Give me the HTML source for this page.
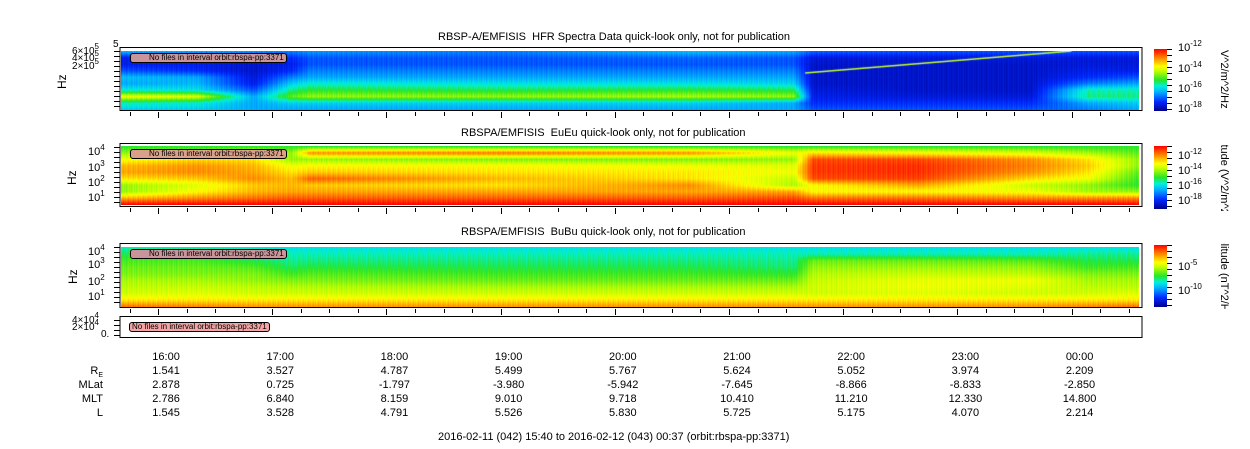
<!DOCTYPE html>
<html><head><meta charset="utf-8">
<style>
body{margin:0;width:1250px;height:449px;background:#fff;position:relative;overflow:hidden;font-family:"Liberation Sans",sans-serif;color:#000}
.t{position:absolute;font-size:11px;white-space:nowrap;line-height:12px}
canvas{position:absolute}
svg{position:absolute;left:0;top:0}
.box{position:absolute;border:1px solid #000;border-radius:3px;font-size:8px;line-height:8px;white-space:nowrap;padding:0 2px}
sup{font-size:8px;vertical-align:5px;line-height:0}
.clip{position:absolute;overflow:hidden}
.rot{position:absolute;transform:rotate(90deg);transform-origin:0 0;font-size:11px;white-space:nowrap}
.rotl{position:absolute;transform:rotate(-90deg);transform-origin:0 0;font-size:12px;white-space:nowrap}
</style></head><body>
<div class="t" style="left:438px;top:31px">RBSP-A/EMFISIS&nbsp; HFR Spectra Data quick-look only, not for publication</div>
<div class="t" style="left:461px;top:127px">RBSPA/EMFISIS&nbsp; EuEu quick-look only, not for publication</div>
<div class="t" style="left:461px;top:226px">RBSPA/EMFISIS&nbsp; BuBu quick-look only, not for publication</div>

<canvas id="c1" width="1018" height="59" style="left:121px;top:51px"></canvas>
<canvas id="c2" width="1018" height="59" style="left:121px;top:146px"></canvas>
<canvas id="c3" width="1018" height="60" style="left:121px;top:247px"></canvas>

<svg id="ax" width="1250" height="449">
<defs><linearGradient id="jet" x1="0" y1="1" x2="0" y2="0">
<stop offset="0" stop-color="#00008c"/><stop offset="0.15" stop-color="#0028ff"/><stop offset="0.3" stop-color="#00aaff"/><stop offset="0.4" stop-color="#00f0dc"/><stop offset="0.5" stop-color="#28e628"/><stop offset="0.65" stop-color="#c8ff00"/><stop offset="0.72" stop-color="#ffff00"/><stop offset="0.85" stop-color="#ff8c00"/><stop offset="1" stop-color="#ff0000"/></linearGradient></defs>
<rect x="120" y="47.5" width="1022" height="63" fill="none" stroke="#000"/>
<rect x="120" y="143.5" width="1022" height="63" fill="none" stroke="#000"/>
<rect x="120" y="243.5" width="1022" height="64" fill="none" stroke="#000"/>
<rect x="120" y="316.5" width="1022" height="21" fill="none" stroke="#000"/>
<rect x="1154" y="49" width="13" height="62" fill="url(#jet)"/>
<rect x="1154" y="146" width="13" height="63" fill="url(#jet)"/>
<rect x="1154" y="245" width="13" height="62" fill="url(#jet)"/>
<g id="ticks" stroke="#000" stroke-width="1"></g>
</svg>

<div class="box" style="left:130px;top:53px;background:#c9959a;padding-left:18px">No files in interval orbit:rbspa-pp:3371</div>
<div class="box" style="left:130px;top:149px;background:#d9a08a;padding-left:18px">No files in interval orbit:rbspa-pp:3371</div>
<div class="box" style="left:130px;top:249px;background:#c9959a;padding-left:18px">No files in interval orbit:rbspa-pp:3371</div>
<div class="box" style="left:129px;top:322px;background:#f4a4a4">No files in interval orbit:rbspa-pp:3371</div>

<div class="t" style="left:113px;top:39px;font-size:10px">5</div>
<div class="t" style="left:72px;top:46px;font-size:10px">6×10<sup>5</sup></div>
<div class="t" style="left:72px;top:53px;font-size:10px">4×10<sup>5</sup></div>
<div class="t" style="left:72px;top:61px;font-size:10px">2×10<sup>5</sup></div>
<div class="rotl" style="left:55px;top:89px">Hz</div>

<div class="t" style="left:88px;top:146px">10<sup>4</sup></div>
<div class="t" style="left:88px;top:162px">10<sup>3</sup></div>
<div class="t" style="left:88px;top:177px">10<sup>2</sup></div>
<div class="t" style="left:88px;top:192px">10<sup>1</sup></div>
<div class="rotl" style="left:65px;top:185px">Hz</div>

<div class="t" style="left:88px;top:246px">10<sup>4</sup></div>
<div class="t" style="left:88px;top:259px">10<sup>3</sup></div>
<div class="t" style="left:88px;top:276px">10<sup>2</sup></div>
<div class="t" style="left:88px;top:291px">10<sup>1</sup></div>
<div class="rotl" style="left:66px;top:284px">Hz</div>

<div class="t" style="left:72px;top:315px;font-size:10px">4×10<sup>4</sup></div>
<div class="t" style="left:72px;top:322px;font-size:10px">2×10<sup>4</sup></div>
<div class="t" style="left:101px;top:329px;font-size:10px">0.</div>

<div class="t" style="left:1178px;top:42px">10<sup>-12</sup></div>
<div class="t" style="left:1178px;top:63px">10<sup>-14</sup></div>
<div class="t" style="left:1178px;top:83px">10<sup>-16</sup></div>
<div class="t" style="left:1178px;top:103px">10<sup>-18</sup></div>
<div class="t" style="left:1178px;top:150px">10<sup>-12</sup></div>
<div class="t" style="left:1178px;top:165px">10<sup>-14</sup></div>
<div class="t" style="left:1178px;top:180px">10<sup>-16</sup></div>
<div class="t" style="left:1178px;top:195px">10<sup>-18</sup></div>
<div class="t" style="left:1178px;top:261px">10<sup>-5</sup></div>
<div class="t" style="left:1178px;top:285px">10<sup>-10</sup></div>

<div class="clip" style="left:1214px;top:47px;width:20px;height:66px"><div class="rot" style="left:16px;top:3px">V^2/m^2/Hz</div></div>
<div class="clip" style="left:1214px;top:145px;width:20px;height:66px"><div class="rot" style="left:16px;top:-28px">Amplitude (V^2/m^2/Hz)</div></div>
<div class="clip" style="left:1214px;top:243px;width:20px;height:66px"><div class="rot" style="left:16px;top:-22px">Amplitude (nT^2/Hz)</div></div>

<div id="table"></div>
<div class="t" style="left:438px;top:431px">2016-02-11 (042) 15:40 to 2016-02-12 (043) 00:37 (orbit:rbspa-pp:3371)</div>

<script>
// ---- data ----
const hourLabels=["16:00","17:00","18:00","19:00","20:00","21:00","22:00","23:00","00:00"];
const reVals=["1.541","3.527","4.787","5.499","5.767","5.624","5.052","3.974","2.209"];
const mlatVals=["2.878","0.725","-1.797","-3.980","-5.942","-7.645","-8.866","-8.833","-2.850"];
const mltVals=["2.786","6.840","8.159","9.010","9.718","10.410","11.210","12.330","14.800"];
const lVals=["1.545","3.528","4.791","5.526","5.830","5.725","5.175","4.070","2.214"];
// spectrogram node times (minutes since 15:40) and band levels (top->bottom, 0..1 colormap)
const nodeTimes=[0,40,70,90,100,200,300,355,365,420,480,510,537];
const hfrLevels=[
[0.32,0.12,0.12,0.2,0.33,0.3,0.4,0.7,0.42,0.35],
[0.3,0.12,0.12,0.15,0.3,0.32,0.38,0.68,0.4,0.35],
[0.28,0.1,0.08,0.08,0.1,0.12,0.2,0.3,0.3,0.3],
[0.25,0.15,0.12,0.15,0.25,0.35,0.45,0.55,0.35,0.3],
[0.28,0.2,0.2,0.25,0.3,0.4,0.5,0.6,0.35,0.3],
[0.25,0.2,0.2,0.25,0.3,0.38,0.48,0.6,0.35,0.3],
[0.33,0.22,0.2,0.25,0.3,0.38,0.5,0.62,0.35,0.3],
[0.3,0.2,0.2,0.25,0.3,0.36,0.48,0.6,0.3,0.3],
[0.22,0.1,0.08,0.08,0.08,0.08,0.1,0.12,0.15,0.2],
[0.2,0.1,0.08,0.08,0.08,0.08,0.08,0.1,0.15,0.2],
[0.2,0.1,0.08,0.08,0.08,0.08,0.08,0.1,0.15,0.2],
[0.2,0.1,0.1,0.12,0.15,0.25,0.42,0.45,0.3,0.25],
[0.2,0.1,0.1,0.12,0.2,0.3,0.42,0.45,0.35,0.3]];
const eueuLevels=[
[0.5,0.6,0.7,0.8,0.82,0.75,0.6,0.6,0.8,1.0],
[0.5,0.62,0.76,0.84,0.85,0.78,0.68,0.72,0.85,1.0],
[0.5,0.7,0.75,0.8,0.82,0.85,0.78,0.8,0.88,1.0],
[0.5,0.6,0.6,0.7,0.75,0.8,0.8,0.82,0.9,1.0],
[0.5,0.85,0.6,0.72,0.78,0.9,0.78,0.82,0.9,1.0],
[0.5,0.88,0.58,0.72,0.75,0.8,0.75,0.82,0.9,1.0],
[0.5,0.85,0.58,0.7,0.74,0.75,0.85,0.82,0.9,1.0],
[0.5,0.7,0.6,0.68,0.7,0.65,0.62,0.82,0.92,1.0],
[0.5,0.75,0.92,0.94,0.94,0.92,0.72,0.72,0.88,1.0],
[0.5,0.72,0.92,0.95,0.95,0.93,0.82,0.72,0.88,1.0],
[0.5,0.68,0.84,0.86,0.84,0.76,0.65,0.7,0.85,1.0],
[0.5,0.62,0.75,0.78,0.75,0.7,0.6,0.62,0.85,1.0],
[0.5,0.55,0.6,0.6,0.55,0.52,0.5,0.6,0.85,1.0]];
const bubuLevels=[
[0.42,0.48,0.53,0.56,0.58,0.62,0.64,0.66,0.74,0.88],
[0.42,0.48,0.53,0.56,0.58,0.62,0.65,0.68,0.74,0.86],
[0.4,0.45,0.48,0.54,0.58,0.6,0.64,0.66,0.74,0.84],
[0.38,0.42,0.44,0.47,0.52,0.58,0.63,0.66,0.74,0.84],
[0.38,0.42,0.45,0.49,0.54,0.58,0.63,0.66,0.74,0.84],
[0.38,0.42,0.45,0.48,0.52,0.56,0.62,0.66,0.74,0.84],
[0.38,0.42,0.45,0.48,0.52,0.56,0.62,0.66,0.74,0.84],
[0.38,0.42,0.44,0.46,0.5,0.56,0.62,0.66,0.74,0.84],
[0.38,0.42,0.56,0.6,0.63,0.65,0.66,0.66,0.74,0.84],
[0.38,0.42,0.56,0.61,0.65,0.69,0.7,0.68,0.74,0.84],
[0.38,0.42,0.54,0.6,0.64,0.7,0.68,0.66,0.74,0.84],
[0.38,0.44,0.48,0.52,0.58,0.62,0.64,0.66,0.74,0.86],
[0.38,0.44,0.48,0.53,0.58,0.62,0.64,0.68,0.74,0.88]];
const totalMinutes=537;

// ---- axes ----
const X0=120,X1=1142;
function xOf(t){return X0+t*(X1-X0)/totalMinutes;}
const stops=[[0,[0,0,140]],[0.15,[0,40,255]],[0.3,[0,170,255]],[0.4,[0,240,220]],[0.5,[40,230,40]],[0.65,[200,255,0]],[0.72,[255,255,0]],[0.85,[255,140,0]],[1,[255,0,0]]];
function cmap(v){v=Math.max(0,Math.min(1,v));for(let i=1;i<stops.length;i++){if(v<=stops[i][0]){const a=stops[i-1],b=stops[i],f=(v-a[0])/(b[0]-a[0]);return a[1].map((c,k)=>Math.round(c+(b[1][k]-c)*f));}}return stops[stops.length-1][1];}
function draw(id,levels){
 const c=document.getElementById(id),ctx=c.getContext('2d'),W=c.width,H=c.height;
 const img=ctx.createImageData(W,H);const nb=levels[0].length;
 for(let px=0;px<W;px++){
  const t=(px+0.5)*totalMinutes/W;let j=0;while(j<nodeTimes.length-2&&t>nodeTimes[j+1])j++;
  const f=Math.max(0,Math.min(1,(t-nodeTimes[j])/(nodeTimes[j+1]-nodeTimes[j])));
  const stripe=((px*7)%5-2)*0.012;
  for(let py=0;py<H;py++){
   const r=py/(H-1)*(nb-1);const r0=Math.floor(r),r1=Math.min(nb-1,r0+1),g=r-r0;
   const a=levels[j][r0]*(1-g)+levels[j][r1]*g,b=levels[j+1][r0]*(1-g)+levels[j+1][r1]*g;
   const col=cmap(a*(1-f)+b*f+stripe);const k=(py*W+px)*4;
   img.data[k]=col[0];img.data[k+1]=col[1];img.data[k+2]=col[2];img.data[k+3]=255;}}
 ctx.putImageData(img,0,0);return ctx;}
const ctx1=draw('c1',hfrLevels);draw('c2',eueuLevels);draw('c3',bubuLevels);
// HFR plasma line
ctx1.strokeStyle='#c8ff30';ctx1.lineWidth=1.5;ctx1.beginPath();ctx1.moveTo(xOf(360)-121,22);ctx1.lineTo(xOf(500)-121,0);ctx1.stroke();

const g=document.getElementById('ticks');const NS='http://www.w3.org/2000/svg';
function ln(x1,y1,x2,y2){const l=document.createElementNS(NS,'line');l.setAttribute('x1',x1);l.setAttribute('y1',y1);l.setAttribute('x2',x2);l.setAttribute('y2',y2);


g.appendChild(l);}
[110,206,307].forEach(yb=>{for(let m=5;m<=totalMinutes;m+=15){const x=Math.round(xOf(m))+0.5;const major=(m-20)%60===0;ln(x,yb+2,x,yb+(major?8:6));}});
[[48,110],[144,206],[244,307],[317,337]].forEach(([a,b])=>{for(let y=a+3;y<b;y+=5)ln(114,y+0.5,120,y+0.5);});
[[49,111],[146,209],[245,307]].forEach(([a,b])=>{for(let y=a;y<=b;y+=6)ln(1167,y+0.5,1172,y+0.5);});

const tb=document.getElementById('table');
const rows=[["",hourLabels,357],["R",reVals,371],["MLat",mlatVals,385],["MLT",mltVals,399],["L",lVals,413]];
rows.forEach((r,ri)=>{
 if(r[0]){const d=document.createElement('div');d.className='t';d.style.cssText='left:40px;width:63px;text-align:right;top:'+(r[2]-6)+'px';
 d.innerHTML=r[0]==="R"?'R<sub style="font-size:7px">E</sub>':r[0];
 
 
 tb.appendChild(d);}
 r[1].forEach((v,i)=>{const d=document.createElement('div');d.className='t';const x=xOf(20+60*i);
 d.style.cssText='left:'+(x-22)+'px;width:60px;text-align:center;top:'+(r[2]-6)+'px';d.textContent=v;
 
 
 tb.appendChild(d);});
});
</script>
</body></html>
